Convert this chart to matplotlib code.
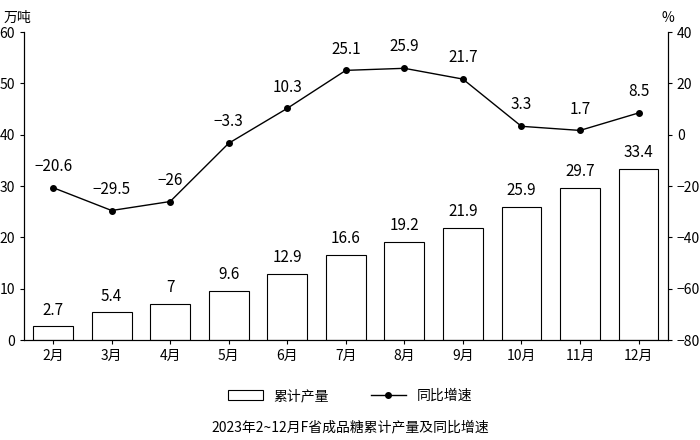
import matplotlib
matplotlib.use("Agg")
import matplotlib.pyplot as plt

plt.rcParams['font.family'] = ['Noto Sans CJK SC', 'DejaVu Sans']

months = ["2月","3月","4月","5月","6月","7月","8月","9月","10月","11月","12月"]
output = [2.7,5.4,7,9.6,12.9,16.6,19.2,21.9,25.9,29.7,33.4]
growth = [-20.6,-29.5,-26,-3.3,10.3,25.1,25.9,21.7,3.3,1.7,8.5]
output_labels = ["2.7","5.4","7","9.6","12.9","16.6","19.2","21.9","25.9","29.7","33.4"]
growth_labels = ["\u221220.6","\u221229.5","\u221226","\u22123.3","10.3","25.1","25.9","21.7","3.3","1.7","8.5"]

fig = plt.figure(figsize=(7,4.4), dpi=100)
ax = fig.add_axes([0.034,0.227,0.92,0.70])
ax2 = ax.twinx()
x = range(len(months))
bars = ax.bar(x, output, width=0.68, facecolor='white', edgecolor='black', linewidth=0.8, label='累计产量')
for i,(v,l) in enumerate(zip(output,output_labels)):
    ax.text(i, v+1.5, l, ha='center', va='bottom', fontsize=11)
ln, = ax2.plot(x, growth, color='black', marker='o', markersize=4, linewidth=1, label='同比增速')
for i,(v,l) in enumerate(zip(growth,growth_labels)):
    ax2.text(i, v+5, l, ha='center', va='bottom', fontsize=11)
ax.set_ylim(0,60); ax2.set_ylim(-80,40)
ax.set_xlim(-0.5,10.5)
ax.set_yticks(range(0,61,10)); ax2.set_yticks(range(-80,41,20))
ax.set_xticks(list(x)); ax.set_xticklabels(months)
for a in (ax,ax2):
    a.tick_params(labelsize=10, direction='out', length=3)
ax.tick_params(axis='x', length=3)
ax.spines['top'].set_visible(False); ax2.spines['top'].set_visible(False)
fig.text(0.005,0.975,"万吨",fontsize=10,va='top')
fig.text(0.945,0.975,"%",fontsize=10,va='top')
fig.legend(handles=[bars, ln], loc='center', bbox_to_anchor=(0.5,0.1), ncol=2, frameon=False, fontsize=10, handlelength=2.5, columnspacing=3)
fig.text(0.5,0.02,"2023年2~12月F省成品糖累计产量及同比增速",ha='center',fontsize=10)
fig.savefig("out.png", dpi=100)
